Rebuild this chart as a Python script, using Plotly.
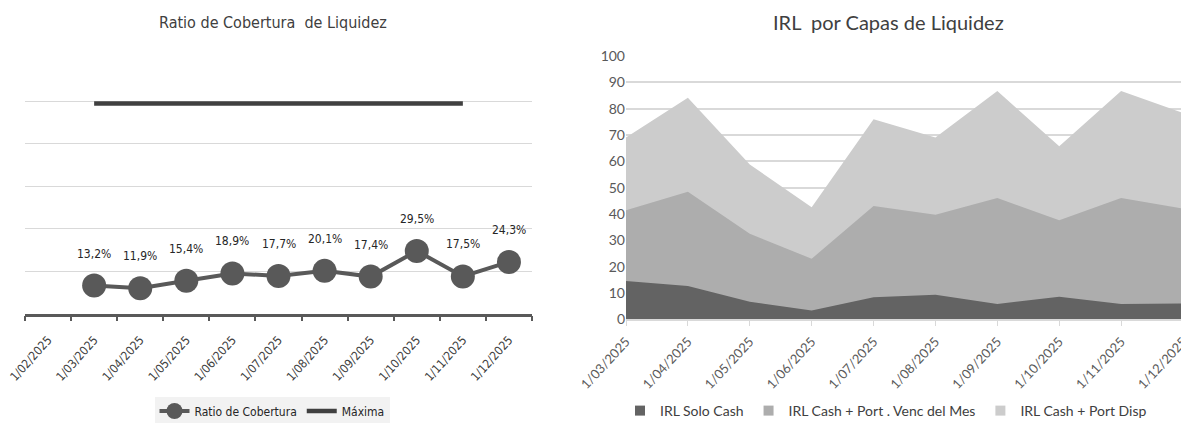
import plotly.graph_objects as go

# ---- Left chart data ----
left_cats = ["1/02/2025", "1/03/2025", "1/04/2025", "1/05/2025", "1/06/2025", "1/07/2025",
             "1/08/2025", "1/09/2025", "1/10/2025", "1/11/2025", "1/12/2025"]
ratio = [None, 13.2, 11.9, 15.4, 18.9, 17.7, 20.1, 17.4, 29.5, 17.5, 24.3]
maxima = [None, 99, 99, 99, 99, 99, 99, 99, 99, 99, None]

# ---- Right chart data ----
right_cats = ["1/03/2025", "1/04/2025", "1/05/2025", "1/06/2025", "1/07/2025",
              "1/08/2025", "1/09/2025", "1/10/2025", "1/11/2025", "1/12/2025"]
solo_cash = [14.5, 12.6, 6.7, 3.3, 8.4, 9.3, 5.8, 8.6, 5.8, 6.0]
cash_venc = [41.4, 48.4, 32.5, 23.0, 43.0, 39.7, 46.1, 37.6, 46.1, 42.0]
cash_disp = [69.0, 84.1, 58.8, 42.6, 76.0, 69.0, 86.7, 65.7, 86.7, 78.4]
area_names = ["IRL Solo Cash", "IRL Cash + Port . Venc del Mes", "IRL Cash + Port Disp"]
area_colors = ["#636363", "#adadad", "#cccccc"]

NARROW = "DejaVu Sans Condensed, Liberation Sans Narrow, sans-serif"
RFONT = "Lato, Open Sans, sans-serif"
GRID = "#d9d9d9"

# page body has an 8px margin: figure placed at (8, 8)
OFF = 8
W, H = 1189 - OFF, 423 - OFF


def px(X):
    return (X - OFF) / W


def py(Y):
    return 1 - (Y - OFF) / H


fig = go.Figure()

# Left traces
fig.add_trace(go.Scatter(
    x=left_cats, y=ratio, mode="lines+markers", name="Ratio de Cobertura",
    line=dict(color="#595959", width=4), marker=dict(size=24, color="#595959"),
    xaxis="x", yaxis="y", legend="legend", connectgaps=False, hoverinfo="skip"))
fig.add_trace(go.Scatter(
    x=left_cats, y=maxima, mode="lines", name="Máxima",
    line=dict(color="#404040", width=4.5),
    xaxis="x", yaxis="y", legend="legend", hoverinfo="skip"))

# Right traces (drawn largest first so smaller ones sit on top)
for vals, nm, col in [(cash_disp, area_names[2], area_colors[2]),
                      (cash_venc, area_names[1], area_colors[1]),
                      (solo_cash, area_names[0], area_colors[0])]:
    fig.add_trace(go.Scatter(
        x=right_cats, y=vals, mode="lines", fill="tozeroy", name=nm,
        line=dict(width=0, color=col), fillcolor=col, showlegend=False,
        xaxis="x2", yaxis="y2", hoverinfo="skip"))

# legend-only square swatches for the area chart
for nm, col in zip(area_names, area_colors):
    fig.add_trace(go.Scatter(
        x=[right_cats[0]], y=[None], mode="markers", name=nm,
        marker=dict(symbol="square", size=10, color=col),
        xaxis="x2", yaxis="y2", legend="legend2", hoverinfo="skip"))

annotations = []
for c, v in zip(left_cats, ratio):
    if v is None:
        continue
    annotations.append(dict(
        x=c, y=v, xref="x", yref="y", text=f"{v:.1f}%".replace(".", ","),
        showarrow=False, yshift=32, font=dict(family=NARROW, size=12, color="#262626")))

annotations.append(dict(
    x=px(273), y=py(22), xref="paper", yref="paper", xanchor="center", yanchor="middle",
    text="Ratio de Cobertura  de Liquidez", showarrow=False,
    font=dict(family=NARROW, size=16, color="#404040")))
annotations.append(dict(
    x=px(888), y=py(22), xref="paper", yref="paper", xanchor="center", yanchor="middle",
    text="IRL  por Capas de Liquidez", showarrow=False,
    font=dict(family=RFONT, size=20, color="#404040")))

fig.update_layout(
    width=W, height=H,
    margin=dict(l=0, r=0, t=0, b=0, autoexpand=False),
    paper_bgcolor="white", plot_bgcolor="white",
    showlegend=True,
    annotations=annotations,
    xaxis=dict(
        domain=[px(25), px(532)], type="category", range=[-0.5, 10.5],
        tickson="boundaries", ticks="outside", ticklen=5, tickwidth=2, tickcolor="#595959",
        showline=True, linecolor="#595959", linewidth=2.5, showgrid=False,
        tickangle=-48, ticklabelstandoff=12,
        tickfont=dict(family=NARROW, size=12, color="#404040"),
        anchor="y", fixedrange=True, automargin=False),
    # overlay axis only to draw the upper half of the crossing tick marks
    xaxis3=dict(
        domain=[px(25), px(532)], range=[-0.5, 10.5], tick0=-0.5, dtick=1,
        ticks="inside", ticklen=5, tickwidth=2, tickcolor="#595959",
        showticklabels=False, showline=False, showgrid=False, zeroline=False,
        overlaying="x", anchor="y", side="bottom", fixedrange=True, automargin=False),
    yaxis=dict(
        domain=[py(313.5), py(59)], range=[0, 120], dtick=20,
        showticklabels=False, showgrid=True, gridcolor=GRID, gridwidth=1.3,
        zeroline=False, showline=False, anchor="x", fixedrange=True, automargin=False),
    xaxis2=dict(
        domain=[px(626), min(1.0, px(1183))], type="category", range=[0, 9],
        ticks="outside", ticklen=5, tickcolor=GRID, showline=True, linecolor=GRID,
        linewidth=1.5, showgrid=False, tickangle=-47, ticklabelstandoff=3,
        tickfont=dict(family=RFONT, size=13, color="#595959"),
        anchor="y2", fixedrange=True, automargin=False),
    yaxis2=dict(
        domain=[py(319.3), py(56)], range=[0, 100], dtick=10,
        showgrid=True, gridcolor=GRID, gridwidth=1.5, zeroline=False, showline=False,
        tickfont=dict(family=RFONT, size=14, color="#595959"), ticks="",
        anchor="x2", fixedrange=True, automargin=False),
    legend=dict(
        orientation="h", x=px(272), y=py(411), xanchor="center", yanchor="middle",
        bgcolor="#f2f2f2", font=dict(family=NARROW, size=12, color="#262626"),
        itemwidth=30, tracegroupgap=0),
    legend2=dict(
        orientation="h", x=px(886), y=py(411), xanchor="center", yanchor="middle",
        bgcolor="rgba(0,0,0,0)", font=dict(family=RFONT, size=14, color="#404040"),
        traceorder="normal", itemwidth=30),
)

fig.write_html("out.html")
